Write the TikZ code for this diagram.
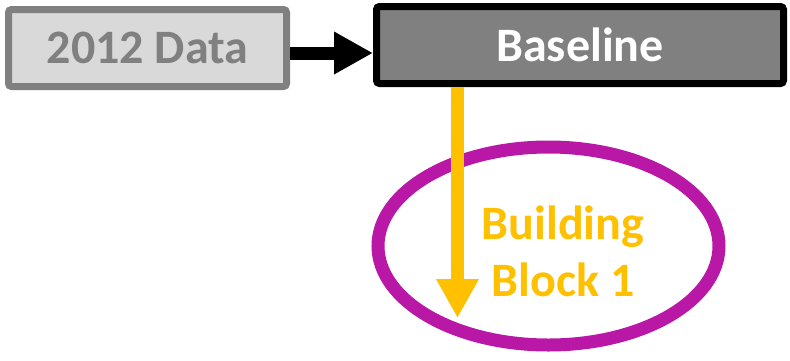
\documentclass[tikz,border=0pt]{standalone}
\usepackage{fontspec}
\setmainfont{Carlito}
\usetikzlibrary{positioning,shapes.geometric,arrows.meta}

\definecolor{boxgray}{HTML}{808080}
\definecolor{lightgray}{HTML}{D9D9D9}
\definecolor{blockyellow}{HTML}{FFC000}
\definecolor{blockpurple}{HTML}{B918A6}

\begin{document}
\begin{tikzpicture}[x=1pt, y=-1pt,
  every box/.style={rectangle, rounded corners=3pt, line width=7pt,
    minimum height=77pt, font=\fontsize{48}{58}\selectfont\bfseries},
  data box/.style={every box, draw=boxgray, fill=lightgray, text=boxgray},
  base box/.style={every box, draw=black, fill=boxgray, text=white},
  flow/.style={line width=13pt, -{Triangle[length=39pt, width=40pt]}}]

\useasboundingbox (0,0) rectangle (790,360);

% input data and baseline
\node [data box, minimum width=278pt] (data-2012) at (147.5,48) {2012 Data};
\node [base box, minimum width=407pt] (baseline) at (580,45) {Baseline};

% building block
\node [ellipse, draw=blockpurple, line width=13pt,
  minimum width=341pt, minimum height=198pt] (block-1) at (548.5,246) {};
\node [align=center, text=blockyellow, font=\fontsize{48}{57}\selectfont\bfseries]
  (block-1-label) at (563,251) {Building\\Block 1};

% arrows
\draw [flow, black] ([yshift=-5pt]data-2012.east) -- ([yshift=-5pt]data-2012.east -| baseline.west);

\coordinate (block-1-end) at (457.5,318);
\draw [flow, blockyellow] (baseline.south -| block-1-end) -- (block-1-end);

\end{tikzpicture}
\end{document}
